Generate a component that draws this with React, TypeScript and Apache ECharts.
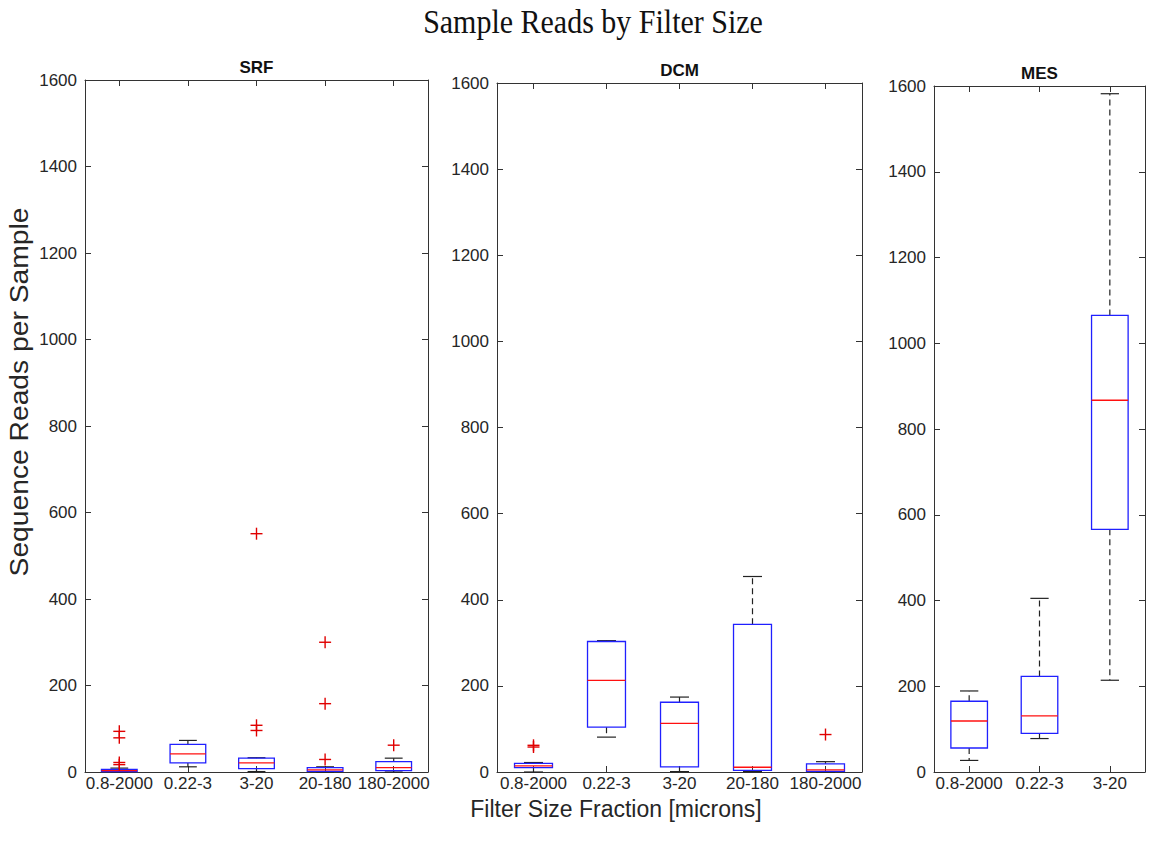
import React, { useEffect, useRef } from "react";
import * as echarts from "echarts";

// ---- data ----
const srfCategories = ["0.8-2000", "0.22-3", "3-20", "20-180", "180-2000"];
const dcmCategories = ["0.8-2000", "0.22-3", "3-20", "20-180", "180-2000"];
const mesCategories = ["0.8-2000", "0.22-3", "3-20"];

// [lower whisker, q1, median, q3, upper whisker]
const srfBoxes = [
  [0, 1, 3, 6, 9],
  [12, 21, 42, 64, 73],
  [1, 8, 21, 32, 33],
  [0, 1.5, 5, 10, 12],
  [0, 3, 10, 24, 32],
];
const srfOutliers = [
  [0, 94], [0, 79], [0, 22], [0, 17],
  [2, 551], [2, 108], [2, 96],
  [3, 300], [3, 158], [3, 29],
  [4, 62],
];

const dcmBoxes = [
  [0, 10, 14, 20, 22],
  [81, 104, 213, 303, 305],
  [1, 12, 113, 162, 174],
  [1, 4, 11, 343, 454],
  [0, 1.5, 5, 19, 24],
];
const dcmOutliers = [
  [0, 62], [0, 58],
  [4, 87],
];

const mesBoxes = [
  [27, 56, 119, 165, 189],
  [78, 90, 131, 223, 405],
  [214, 566, 867, 1065, 1582],
];
const mesOutliers: number[][] = [];

const yTicks = { min: 0, max: 1600, interval: 200 };

const panelTitles = ["SRF", "DCM", "MES"];
const mainTitle = "Sample Reads by Filter Size";
const yLabel = "Sequence Reads per Sample";
const xLabel = "Filter Size Fraction [microns]";

const SANS = "'Liberation Sans', Arial, Helvetica, sans-serif";
const SERIF = "'Liberation Serif', 'Times New Roman', serif";
const AXIS = "#333333";

export default function App() {
  const ref = useRef<HTMLDivElement>(null);

  useEffect(() => {
    if (!ref.current) return;
    const chart = echarts.init(ref.current, null, { renderer: "svg" });

    const grids = [
      { left: 85, top: 80, width: 343, height: 692 },
      { left: 497, top: 83, width: 365, height: 689 },
      { left: 934, top: 86, width: 211, height: 686 },
    ];
    const cats = [srfCategories, dcmCategories, mesCategories];
    const boxes = [srfBoxes, dcmBoxes, mesBoxes];
    const outs = [srfOutliers, dcmOutliers, mesOutliers];

    const xAxes: any[] = [];
    const yAxes: any[] = [];
    grids.forEach((g, i) => {
      xAxes.push({
        type: "category",
        gridIndex: i,
        data: cats[i],
        position: "bottom",
        axisLine: { show: true, lineStyle: { color: AXIS, width: 1 } },
        axisTick: { show: true, inside: true, alignWithLabel: true, length: 6, lineStyle: { color: AXIS } },
        axisLabel: {
          show: true,
          interval: 0,
          hideOverlap: false,
          color: "#262626",
          fontFamily: SANS,
          fontSize: 17,
          margin: 3,
          lineHeight: 17,
        },
        splitLine: { show: false },
      });
      xAxes.push({
        type: "category",
        gridIndex: i,
        data: cats[i],
        position: "top",
        axisLine: { show: true, onZero: false, lineStyle: { color: AXIS, width: 1 } },
        axisTick: { show: true, inside: true, alignWithLabel: true, length: 6, lineStyle: { color: AXIS } },
        axisLabel: { show: false },
        splitLine: { show: false },
      });
      yAxes.push({
        type: "value",
        gridIndex: i,
        position: "left",
        min: yTicks.min,
        max: yTicks.max,
        interval: yTicks.interval,
        axisLine: { show: true, lineStyle: { color: AXIS, width: 1 } },
        axisTick: { show: true, inside: true, length: 6, lineStyle: { color: AXIS } },
        axisLabel: {
          show: true,
          color: "#262626",
          fontFamily: SANS,
          fontSize: 17,
          margin: 8,
          formatter: (v: number) => String(v),
        },
        splitLine: { show: false },
      });
      yAxes.push({
        type: "value",
        gridIndex: i,
        position: "right",
        min: yTicks.min,
        max: yTicks.max,
        interval: yTicks.interval,
        axisLine: { show: true, lineStyle: { color: AXIS, width: 1 } },
        axisTick: { show: true, inside: true, length: 6, lineStyle: { color: AXIS } },
        axisLabel: { show: false },
        splitLine: { show: false },
      });
    });

    const boxRender = (params: any, api: any) => {
      const idx = api.value(0);
      const lo = api.value(1), q1 = api.value(2), med = api.value(3), q3 = api.value(4), hi = api.value(5);
      const band = api.size([1, 0])[0];
      const hw = band * 0.26;
      const cw = band * 0.13;
      const pLo = api.coord([idx, lo]);
      const pQ1 = api.coord([idx, q1]);
      const pMed = api.coord([idx, med]);
      const pQ3 = api.coord([idx, q3]);
      const pHi = api.coord([idx, hi]);
      const x = pMed[0];
      const whisker = { stroke: "#222", lineWidth: 1.2, lineDash: [6, 4] };
      const solid = { stroke: "#222", lineWidth: 1.2 };
      return {
        type: "group",
        children: [
          { type: "line", shape: { x1: x, y1: pQ3[1], x2: x, y2: pHi[1] }, style: whisker },
          { type: "line", shape: { x1: x, y1: pQ1[1], x2: x, y2: pLo[1] }, style: whisker },
          { type: "line", shape: { x1: x - cw, y1: pHi[1], x2: x + cw, y2: pHi[1] }, style: solid },
          { type: "line", shape: { x1: x - cw, y1: pLo[1], x2: x + cw, y2: pLo[1] }, style: solid },
          {
            type: "rect",
            shape: { x: x - hw, y: pQ3[1], width: hw * 2, height: pQ1[1] - pQ3[1] },
            style: { fill: "none", stroke: "#2020ff", lineWidth: 1.3 },
          },
          {
            type: "line",
            shape: { x1: x - hw, y1: pMed[1], x2: x + hw, y2: pMed[1] },
            style: { stroke: "#ff1010", lineWidth: 1.3 },
          },
        ],
      };
    };

    const outlierRender = (params: any, api: any) => {
      const p = api.coord([api.value(0), api.value(1)]);
      const s = 6;
      const st = { stroke: "#e00000", lineWidth: 1.4 };
      return {
        type: "group",
        children: [
          { type: "line", shape: { x1: p[0] - s, y1: p[1], x2: p[0] + s, y2: p[1] }, style: st },
          { type: "line", shape: { x1: p[0], y1: p[1] - s, x2: p[0], y2: p[1] + s }, style: st },
        ],
      };
    };

    const series: any[] = [];
    grids.forEach((g, i) => {
      series.push({
        type: "custom",
        xAxisIndex: i * 2,
        yAxisIndex: i * 2,
        renderItem: boxRender,
        encode: { x: 0, y: [1, 2, 3, 4, 5] },
        data: boxes[i].map((b, k) => [k, ...b]),
        clip: false,
      });
      series.push({
        type: "custom",
        xAxisIndex: i * 2,
        yAxisIndex: i * 2,
        renderItem: outlierRender,
        encode: { x: 0, y: 1 },
        data: outs[i].map((o) => [o[0], o[1]]),
        clip: false,
      });
    });

    const graphic: any[] = [
      {
        type: "text",
        x: 593,
        y: 22,
        scaleY: 1.1,
        style: {
          text: mainTitle,
          font: `30px ${SERIF}`,
          fill: "#111",
          textAlign: "center",
          textVerticalAlign: "middle",
        },
      },
      {
        type: "text",
        x: 20,
        y: 392,
        rotation: Math.PI / 2,
        scaleX: 1.13,
        style: {
          text: yLabel,
          font: `25px ${SANS}`,
          fill: "#262626",
          textAlign: "center",
          textVerticalAlign: "middle",
        },
      },
      {
        type: "text",
        x: 616,
        y: 809,
        style: {
          text: xLabel,
          font: `23px ${SANS}`,
          fill: "#262626",
          textAlign: "center",
          textVerticalAlign: "middle",
        },
      },
    ];
    grids.forEach((g, i) => {
      graphic.push({
        type: "text",
        x: g.left + g.width / 2,
        y: g.top - 13,
        style: {
          text: panelTitles[i],
          font: `bold 17px ${SANS}`,
          fill: "#111",
          textAlign: "center",
          textVerticalAlign: "middle",
        },
      });
    });

    chart.setOption({
      animation: false,
      backgroundColor: "#ffffff",
      grid: grids,
      xAxis: xAxes,
      yAxis: yAxes,
      series,
      graphic,
    });

    return () => chart.dispose();
  }, []);

  return (
    <div
      ref={ref}
      style={{ position: "fixed", left: 0, top: 0, width: 1149, height: 848, background: "#fff" }}
    />
  );
}
